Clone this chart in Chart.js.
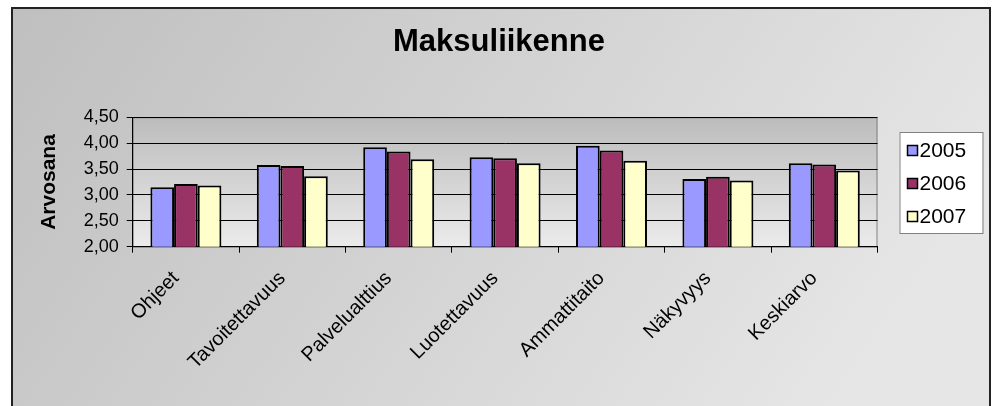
<!DOCTYPE html>
<html>
<head>
<meta charset="utf-8">
<script src="https://cdn.jsdelivr.net/npm/chart.js@4/dist/chart.umd.min.js"></script>
<style>
  html, body { margin: 0; padding: 0; background: #fff; }
  #wrap { width: 998px; height: 406px; }
</style>
</head>
<body>
<div id="wrap"><canvas id="chart" width="998" height="406"></canvas></div>
<script>
// Maksuliikenne - arvosanat vuosittain
const categories = ['Ohjeet', 'Tavoitettavuus', 'Palvelualttius', 'Luotettavuus', 'Ammattitaito', 'Näkyvyys', 'Keskiarvo'];
const years = ['2005', '2006', '2007'];
const values2005 = [3.15, 3.58, 3.92, 3.73, 3.95, 3.31, 3.61];
const values2006 = [3.21, 3.56, 3.84, 3.71, 3.86, 3.35, 3.59];
const values2007 = [3.18, 3.36, 3.69, 3.61, 3.66, 3.28, 3.47];
const seriesColors = ['#9999ff', '#993366', '#ffffcc'];

const FONT = "'Liberation Sans', Arial, sans-serif";

// taustat ja selite piirretään itse
const backdrop = {
    id: 'backdrop',
    beforeDraw(chart) {
        const { ctx, chartArea: a, width, height } = chart;
        ctx.save();
        ctx.fillStyle = '#fff';
        ctx.fillRect(0, 0, width, height);
        const g = ctx.createLinearGradient(12, 8, 760, 520);
        g.addColorStop(0, '#bfbfbf');
        g.addColorStop(1, '#e6e6e6');
        ctx.fillStyle = g;
        ctx.fillRect(12, 8, 978, height);
        ctx.strokeStyle = '#222';
        ctx.lineWidth = 2;
        ctx.beginPath();
        ctx.moveTo(12, height + 4);
        ctx.lineTo(12, 8);
        ctx.lineTo(990, 8);
        ctx.lineTo(990, height + 4);
        ctx.stroke();

        const pg = ctx.createLinearGradient(0, a.top, 0, a.bottom);
        pg.addColorStop(0, '#bcbcbc');
        pg.addColorStop(1, '#ebebeb');
        ctx.fillStyle = pg;
        ctx.fillRect(a.left, a.top, a.right - a.left, a.bottom - a.top);
        ctx.strokeStyle = '#808080';
        ctx.lineWidth = 1;
        ctx.strokeRect(a.left + 0.5, a.top + 0.5, a.right - a.left - 1, a.bottom - a.top);
        ctx.restore();
    },
    afterDraw(chart) {
        const { ctx, chartArea: a } = chart;
        const x = a.right + 22, y = 132, w = 83, h = 101;
        ctx.save();
        ctx.fillStyle = '#fff';
        ctx.fillRect(x, y, w, h);
        ctx.strokeStyle = '#808080';
        ctx.lineWidth = 1;
        ctx.strokeRect(x + 0.5, y + 0.5, w, h);
        ctx.font = '21px ' + FONT;
        ctx.textBaseline = 'middle';
        chart.data.datasets.forEach((ds, i) => {
            const cy = y + 18.5 + i * 33;
            ctx.fillStyle = ds.backgroundColor;
            ctx.fillRect(x + 8, cy - 5, 10, 10);
            ctx.strokeStyle = '#000';
            ctx.lineWidth = 1.5;
            ctx.strokeRect(x + 8, cy - 5, 10, 10);
            ctx.fillStyle = '#000';
            ctx.fillText(ds.label, x + 20, cy + 1);
        });
        ctx.restore();
    }
};

const seriesValues = [values2005, values2006, values2007];

new Chart(document.getElementById('chart').getContext('2d'), {
    type: 'bar',
    data: {
        labels: categories,
        datasets: years.map((year, i) => ({
            label: year,
            data: seriesValues[i],
            backgroundColor: seriesColors[i],
            borderColor: '#000',
            borderWidth: 2,
            borderSkipped: 'bottom',
            categoryPercentage: 0.667,
            barPercentage: 1.0
        }))
    },
    options: {
        responsive: false,
        animation: false,
        layout: { padding: 0 },
        plugins: {
            legend: { display: false },
            tooltip: { enabled: false },
            title: {
                display: true,
                text: 'Maksuliikenne',
                color: '#000',
                font: { family: FONT, size: 31, weight: 'bold', lineHeight: 1.2 },
                padding: { top: 23.4, bottom: 56.7 }
            }
        },
        scales: {
            y: {
                min: 2,
                max: 4.5,
                afterFit(scale) { scale.width = 132.7; },
                ticks: {
                    stepSize: 0.5,
                    color: '#000',
                    padding: 8,
                    font: { family: FONT, size: 18 },
                    callback: v => v.toFixed(2).replace('.', ',')
                },
                grid: { color: '#000', lineWidth: 1, tickLength: 6 },
                border: { color: '#000', width: 1 },
                title: {
                    display: true,
                    text: 'Arvosana',
                    color: '#000',
                    font: { family: FONT, size: 21, weight: 'bold', lineHeight: 1.2 },
                    padding: { top: 37, bottom: 0 }
                }
            },
            // tyhjä akseli oikealla pitää tilaa selitteelle
            side: {
                position: 'right',
                afterFit(scale) { scale.width = 120.5; },
                ticks: { display: false },
                grid: { display: false },
                border: { display: false }
            },
            x: {
                afterFit(scale) { scale.height = 406 - 246.7; },
                ticks: {
                    color: '#000',
                    minRotation: 45,
                    maxRotation: 45,
                    padding: 14,
                    labelOffset: -10,
                    font: { family: FONT, size: 20 }
                },
                grid: { drawOnChartArea: false, color: '#000', tickLength: 6 },
                border: { color: '#000', width: 1 }
            }
        }
    },
    plugins: [backdrop]
});
</script>
</body>
</html>
